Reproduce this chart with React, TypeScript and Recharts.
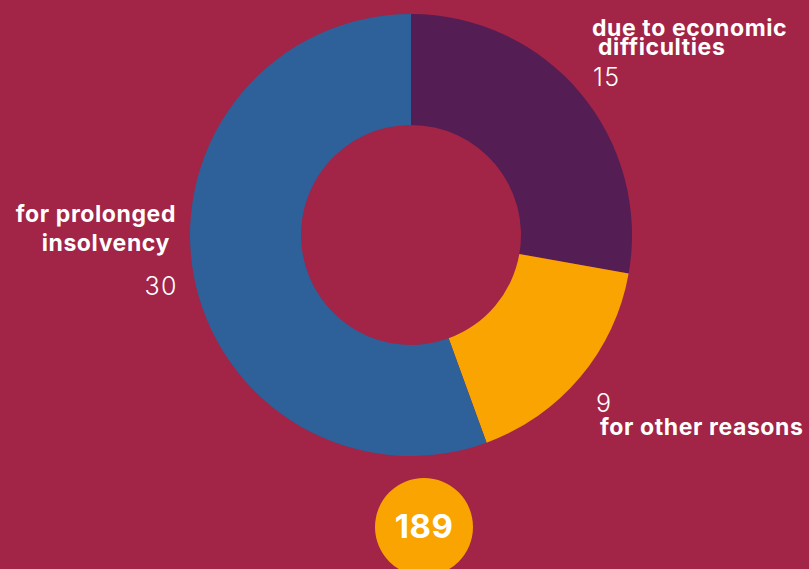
import React from "react";
import { PieChart, Pie, Cell } from "recharts";

const categories = ["due to economic difficulties", "for other reasons", "for prolonged insolvency"];
const counts = [15, 9, 30];
const colors = ["#541D53", "#F9A400", "#2E6099"];
const totalLabel = "189";

const BG = "#A22446";
const W = 809;
const H = 569;

const data = categories.map((name, i) => ({ name, value: counts[i] }));

export default function App() {
  const bold = {
    fontFamily: "Inter, 'Noto Sans', sans-serif",
    fontWeight: 700,
    fontSize: 23,
    letterSpacing: 0.6,
    fill: "#fff",
  };
  const light = {
    fontFamily: "Inter, 'Noto Sans', sans-serif",
    fontWeight: 300,
    fontSize: 25,
    letterSpacing: 1.5,
    fill: "#fff",
  };
  return (
    <div
      style={{
        position: "fixed",
        left: 0,
        top: 0,
        width: W,
        height: H,
        background: BG,
        overflow: "hidden",
      }}
    >
      <PieChart width={W} height={H} margin={{ top: 0, right: 0, bottom: 0, left: 0 }}>
        <Pie
          data={data}
          dataKey="value"
          nameKey="name"
          cx={411}
          cy={235}
          innerRadius={110}
          outerRadius={221}
          startAngle={90}
          endAngle={-270}
          stroke="none"
          isAnimationActive={false}
        >
          {data.map((d, i) => (
            <Cell key={d.name} fill={colors[i]} />
          ))}
        </Pie>
      </PieChart>
      <svg width={W} height={H} style={{ position: "absolute", left: 0, top: 0 }}>
        <text x={592} y={36} style={bold}>due to economic</text>
        <text x={598} y={55} style={bold}>difficulties</text>
        <text x={593} y={86} style={light}>{counts[0]}</text>

        <text x={176} y={222} textAnchor="end" style={bold}>for prolonged</text>
        <text x={170} y={251} textAnchor="end" style={bold}>insolvency</text>
        <text x={178} y={295} textAnchor="end" style={light}>{counts[2]}</text>

        <text x={596} y={412} style={light}>{counts[1]}</text>
        <text x={600} y={435} style={bold}>for other reasons</text>

        <circle cx={424} cy={527} r={49} fill="#F9A400" />
        <text x={424} y={538} textAnchor="middle" style={{ ...bold, fontSize: 33, letterSpacing: 0.5 }}>
          {totalLabel}
        </text>
      </svg>
    </div>
  );
}
